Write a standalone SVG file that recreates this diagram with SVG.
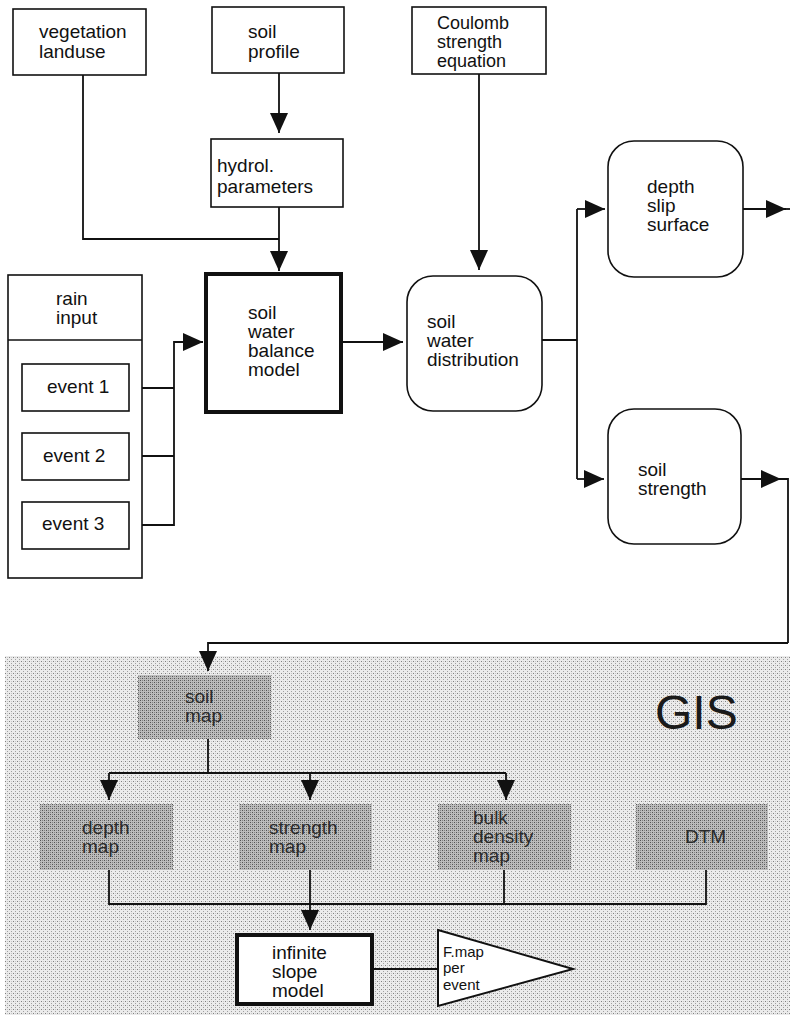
<svg xmlns="http://www.w3.org/2000/svg" width="790" height="1015" viewBox="0 0 790 1015">
<style>
  .box{fill:#fff;stroke:#111;stroke-width:1.6}
  .thick{fill:#fff;stroke:#111;stroke-width:4}
  .gbox{fill:url(#dark);stroke:none}
  .t{font-family:"Liberation Sans",Arial,sans-serif;font-size:19px;fill:#111}
  .tc{font-family:"Liberation Sans",Arial,sans-serif;font-size:18px;fill:#111}
  .ts{font-family:"Liberation Sans",Arial,sans-serif;font-size:15px;fill:#111}
  .tg{font-family:"Liberation Sans",Arial,sans-serif;font-size:19px;fill:#2a2a2a}
  .c{fill:none;stroke:#111;stroke-width:1.8}
  .ca{fill:none;stroke:#111;stroke-width:1.8;marker-end:url(#ah)}
</style>
<defs>
  <marker id="ah" markerUnits="userSpaceOnUse" markerWidth="21" markerHeight="18" refX="20" refY="9" orient="auto">
    <path d="M0,0 L20,9 L0,18 z" fill="#111"/>
  </marker>
  <pattern id="light" width="4" height="4" patternUnits="userSpaceOnUse">
    <rect width="4" height="4" fill="#ebebeb"/>
    <rect x="1" y="1" width="1" height="1" fill="#808080"/>
    <rect x="3" y="3" width="1" height="1" fill="#a0a0a0"/>
    <rect x="3" y="1" width="1" height="1" fill="#c8c8c8"/>
  </pattern>
  <pattern id="dark" width="4" height="4" patternUnits="userSpaceOnUse">
    <rect width="4" height="4" fill="#bcbcbc"/>
    <rect x="0" y="0" width="1" height="1" fill="#555"/>
    <rect x="2" y="2" width="1" height="1" fill="#555"/>
    <rect x="2" y="0" width="1" height="1" fill="#858585"/>
    <rect x="0" y="2" width="1" height="1" fill="#858585"/>
  </pattern>
</defs>

<g id="gis-area">
  <rect x="5" y="656" width="785" height="359" fill="url(#light)"/>
  <text x="655" y="729" font-family="Liberation Sans, Arial, sans-serif" font-size="48" fill="#1a1a1a">GIS</text>
</g>

<g id="connectors">
  <path class="c" d="M83,75 V239 H279"/>
  <path class="ca" d="M279,73 V133"/>
  <path class="ca" d="M279,207 V271"/>
  <path class="c" d="M129,388 H174 M129,456 H174"/>
  <path class="ca" d="M129,525 H174 V342 H203"/>
  <path class="ca" d="M341,342 H403"/>
  <path class="ca" d="M479,74 V270"/>
  <path class="c" d="M542,340 H577 M577,209 V479"/>
  <path class="ca" d="M577,209 H605"/>
  <path class="ca" d="M577,479 H604"/>
  <path class="ca" d="M743,209 H786"/>
  <path class="c" d="M786,209 H790"/>
  <path class="ca" d="M741,479 H781"/>
  <path class="c" d="M781,479 H788 V643"/>
  <path class="ca" d="M788,643 H208 V671"/>
  <path class="c" d="M208,739 V773 M109,773 H506"/>
  <path class="ca" d="M109,773 V800"/>
  <path class="ca" d="M310,773 V800"/>
  <path class="ca" d="M506,773 V800"/>
  <path class="c" d="M109,870 V904 H706 V870 M504,870 V904"/>
  <path class="ca" d="M310,870 V930"/>
  <path class="c" d="M372,969 H438"/>
</g>

<g id="vegetation-landuse">
  <rect class="box" x="13" y="9" width="133" height="66"/>
  <text class="t" x="39" y="38">vegetation</text>
  <text class="t" x="39" y="58">landuse</text>
</g>
<g id="soil-profile">
  <rect class="box" x="212" y="7" width="132" height="66"/>
  <text class="t" x="248" y="38">soil</text>
  <text class="t" x="248" y="58">profile</text>
</g>
<g id="hydrol-parameters">
  <rect class="box" x="211" y="139" width="132" height="68"/>
  <text class="t" x="217" y="172">hydrol.</text>
  <text class="t" x="217" y="193">parameters</text>
</g>
<g id="coulomb">
  <rect class="box" x="412" y="7" width="134" height="67"/>
  <text class="tc" x="437" y="29">Coulomb</text>
  <text class="tc" x="437" y="48">strength</text>
  <text class="tc" x="437" y="67">equation</text>
</g>
<g id="rain-input">
  <rect class="box" x="8" y="275" width="134" height="303"/>
  <line x1="8" y1="340" x2="142" y2="340" stroke="#111" stroke-width="1.6"/>
  <text class="t" x="56" y="305">rain</text>
  <text class="t" x="56" y="324">input</text>
</g>
<g id="event-1">
  <rect class="box" x="22" y="364" width="107" height="47"/>
  <text class="t" x="47" y="393">event 1</text>
</g>
<g id="event-2">
  <rect class="box" x="22" y="433" width="107" height="47"/>
  <text class="t" x="43" y="462">event 2</text>
</g>
<g id="event-3">
  <rect class="box" x="22" y="502" width="107" height="47"/>
  <text class="t" x="42" y="530">event 3</text>
</g>
<g id="soil-water-balance-model">
  <rect class="thick" x="206" y="274" width="135" height="138"/>
  <text class="t" x="248" y="319">soil</text>
  <text class="t" x="248" y="338">water</text>
  <text class="t" x="248" y="357">balance</text>
  <text class="t" x="248" y="376">model</text>
</g>
<g id="soil-water-distribution">
  <rect class="box" x="407" y="276" width="135" height="135" rx="26"/>
  <text class="t" x="427" y="328">soil</text>
  <text class="t" x="427" y="347">water</text>
  <text class="t" x="427" y="366">distribution</text>
</g>
<g id="depth-slip-surface">
  <rect class="box" x="608" y="141" width="135" height="136" rx="26"/>
  <text class="t" x="647" y="193">depth</text>
  <text class="t" x="647" y="212">slip</text>
  <text class="t" x="647" y="231">surface</text>
</g>
<g id="soil-strength">
  <rect class="box" x="608" y="409" width="133" height="135" rx="26"/>
  <text class="t" x="638" y="476">soil</text>
  <text class="t" x="638" y="495">strength</text>
</g>

<g id="soil-map">
  <rect class="gbox" x="138" y="675" width="133" height="64"/>
  <text class="tg" x="185" y="703">soil</text>
  <text class="tg" x="185" y="722">map</text>
</g>
<g id="depth-map">
  <rect class="gbox" x="40" y="804" width="133" height="66"/>
  <text class="tg" x="82" y="834">depth</text>
  <text class="tg" x="82" y="853">map</text>
</g>
<g id="strength-map">
  <rect class="gbox" x="239" y="804" width="133" height="66"/>
  <text class="tg" x="269" y="834">strength</text>
  <text class="tg" x="269" y="853">map</text>
</g>
<g id="bulk-density-map">
  <rect class="gbox" x="438" y="804" width="133" height="66"/>
  <text class="tg" x="473" y="824">bulk</text>
  <text class="tg" x="473" y="843">density</text>
  <text class="tg" x="473" y="862">map</text>
</g>
<g id="dtm">
  <rect class="gbox" x="636" y="804" width="132" height="66"/>
  <text class="tg" x="685" y="843">DTM</text>
</g>
<g id="infinite-slope-model">
  <rect class="thick" x="237" y="935" width="135" height="69"/>
  <text class="t" x="272" y="959">infinite</text>
  <text class="t" x="272" y="978">slope</text>
  <text class="t" x="272" y="997">model</text>
</g>
<g id="f-map-per-event">
  <polygon points="438,930 573,969 438,1006" fill="#fff" stroke="#111" stroke-width="2"/>
  <text class="ts" x="443" y="957">F.map</text>
  <text class="ts" x="443" y="973">per</text>
  <text class="ts" x="443" y="990">event</text>
</g>
</svg>
